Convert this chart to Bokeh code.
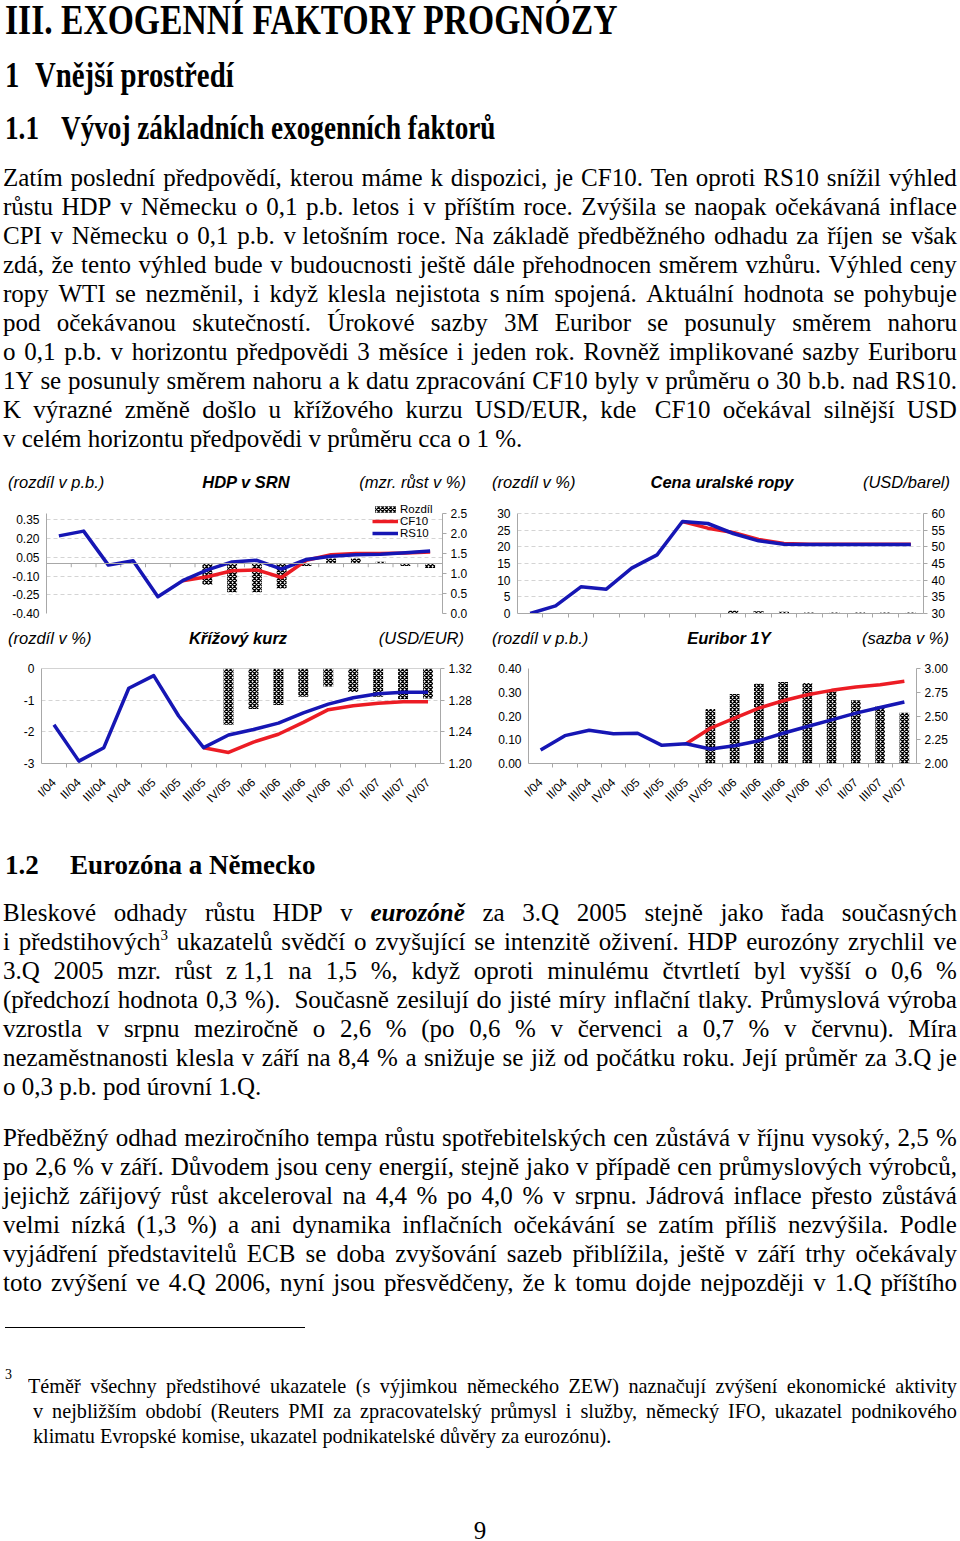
import math
import numpy as np
from bokeh.plotting import figure
from bokeh.layouts import column, row
from bokeh.models import (Range1d, LinearAxis, FixedTicker, NumeralTickFormatter, Span,
                          Legend, LegendItem, Div)
from bokeh.embed import file_html
from bokeh.resources import INLINE

nan = float("nan")

# ---------------- data ----------------
quarters = ["I/04", "II/04", "III/04", "IV/04", "I/05", "II/05", "III/05", "IV/05",
            "I/06", "II/06", "III/06", "IV/06", "I/07", "II/07", "III/07", "IV/07"]

# HDP v SRN (mzr. růst v %), rozdíl v p.b.
hdp_rs10 = [1.94, 2.06, 1.21, 1.32, 0.42, 0.82, 1.09, 1.29, 1.33, 1.11, 1.35, 1.43, 1.47, 1.48, 1.52, 1.56]
hdp_cf10 = [nan, nan, nan, nan, nan, 0.82, 0.92, 1.07, 1.09, 0.90, 1.33, 1.47, 1.50, 1.50, 1.51, 1.54]
hdp_diff = [nan, nan, nan, nan, nan, nan, -0.17, -0.23, -0.23, -0.20, -0.02, 0.04, 0.04, 0.015, -0.02, -0.035]

# Cena uralské ropy (USD/barel), rozdíl v %
oil_rs10 = [30.0, 32.3, 38.0, 37.3, 43.6, 47.6, 57.6, 57.0, 54.0, 51.8, 50.8, 50.7, 50.7, 50.7, 50.7, 50.7]
oil_cf10 = [nan, nan, nan, nan, nan, nan, 57.6, 55.6, 54.3, 52.2, 51.0, 50.8, 50.8, 50.8, 50.8, 50.8]
oil_diff = [nan, nan, nan, nan, nan, nan, nan, nan, 0.8, 0.7, 0.5, 0.3, 0.3, 0.3, 0.3, 0.3]

# Křížový kurz (USD/EUR), rozdíl v %
fx_rs10 = [1.249, 1.203, 1.220, 1.295, 1.311, 1.260, 1.220, 1.236, 1.243, 1.251, 1.264, 1.275, 1.283, 1.288, 1.290, 1.290]
fx_cf10 = [nan, nan, nan, nan, nan, nan, 1.220, 1.214, 1.227, 1.237, 1.252, 1.268, 1.273, 1.276, 1.278, 1.278]
fx_diff = [nan, nan, nan, nan, nan, nan, nan, -1.78, -1.28, -1.15, -0.89, -0.57, -0.74, -0.89, -0.97, -0.95]

# Euribor 1Y (sazba v %), rozdíl v p.b.
eur_rs10 = [2.141, 2.293, 2.350, 2.314, 2.318, 2.191, 2.208, 2.152, 2.187, 2.240, 2.318, 2.389, 2.459, 2.530, 2.590, 2.647]
eur_cf10 = [nan, nan, nan, nan, nan, nan, 2.208, 2.371, 2.477, 2.583, 2.661, 2.724, 2.770, 2.806, 2.830, 2.866]
eur_diff = [nan, nan, nan, nan, nan, nan, nan, 0.229, 0.293, 0.336, 0.343, 0.339, 0.304, 0.266, 0.240, 0.214]

hdp_left_ticks = [-0.40, -0.25, -0.10, 0.05, 0.20, 0.35]
hdp_right_ticks = [0.0, 0.5, 1.0, 1.5, 2.0, 2.5]
oil_left_ticks = [0, 5, 10, 15, 20, 25, 30]
oil_right_ticks = [30, 35, 40, 45, 50, 55, 60]
fx_left_ticks = [-3, -2, -1, 0]
fx_right_ticks = [1.20, 1.24, 1.28, 1.32]
eur_left_ticks = [0.0, 0.1, 0.2, 0.3, 0.4]
eur_right_ticks = [2.00, 2.25, 2.50, 2.75, 3.00]

# ---------------- styles ----------------
RED = "#ec1c24"
BLUE = "#1616b4"
AXIS = "#a8a8a8"
GRID = "#d4d4d4"
SANS = "Liberation Sans"
TICK_FS = "12px"

n = len(quarters)
xs = list(range(n))
inner_bounds = [i + 0.5 for i in range(n - 1)]


def base_fig(w, h, bl, br, bt, bb, yr, yr2, lticks, rticks, lfmt, rfmt, grid=True, extend_top=0):
    # extend_top: extra pixels of frame above the nominal axis top (axis lines stay bounded)
    frame_h = h - bt - bb - extend_top
    lo, hi = yr
    lo2, hi2 = yr2
    hi_e = hi + (hi - lo) * extend_top / frame_h
    hi2_e = hi2 + (hi2 - lo2) * extend_top / frame_h
    p = figure(width=w, height=h, x_range=Range1d(-0.5, n - 0.5), y_range=Range1d(lo, hi_e),
               title=None, output_backend="svg", toolbar_location=None,
               min_border_left=bl, min_border_right=br, min_border_top=bt, min_border_bottom=bb)
    p.outline_line_color = None
    p.background_fill_color = "white"
    p.border_fill_color = "white"
    p.xgrid.visible = False
    p.extra_y_ranges = {"lvl": Range1d(lo2, hi2_e)}
    ya = p.yaxis[0]
    ya.bounds = (lo, hi)
    ya.ticker = FixedTicker(ticks=lticks)
    ya.formatter = NumeralTickFormatter(format=lfmt)
    ya.axis_line_color = AXIS
    ya.major_tick_out = 0
    ya.major_tick_in = 0
    ya.minor_tick_line_color = None
    ya.major_label_standoff = 7
    ya.major_label_text_font = SANS
    ya.major_label_text_font_size = TICK_FS
    ya.major_label_text_color = "black"
    if grid:
        p.ygrid.ticker = FixedTicker(ticks=lticks)
        p.ygrid.grid_line_color = GRID
        p.ygrid.grid_line_dash = "4 3"
    else:
        p.ygrid.visible = False
    ra = LinearAxis(y_range_name="lvl", ticker=FixedTicker(ticks=rticks),
                    formatter=NumeralTickFormatter(format=rfmt), bounds=(lo2, hi2))
    ra.axis_line_color = AXIS
    ra.major_tick_line_color = AXIS
    ra.major_tick_out = 4
    ra.major_tick_in = 0
    ra.minor_tick_line_color = None
    ra.major_label_standoff = 4
    ra.major_label_text_font = SANS
    ra.major_label_text_font_size = TICK_FS
    ra.major_label_text_color = "black"
    p.add_layout(ra, "right")
    return p


def style_xaxis(p, labels=True):
    xa = p.xaxis[0]
    xa.axis_line_color = AXIS
    xa.major_tick_out = 0
    xa.major_tick_in = 0
    xa.minor_tick_out = 4
    xa.minor_tick_in = 0
    xa.minor_tick_line_color = AXIS
    if labels:
        xa.ticker = FixedTicker(ticks=xs, minor_ticks=inner_bounds)
        xa.major_label_overrides = {i: q for i, q in enumerate(quarters)}
        xa.major_label_orientation = math.pi / 4
        xa.major_label_standoff = 13
        xa.major_label_text_font = SANS
        xa.major_label_text_font_size = TICK_FS
        xa.major_label_text_color = "black"
    else:
        xa.ticker = FixedTicker(ticks=[], minor_ticks=inner_bounds)


def bars(p, vals):
    return p.vbar(x=xs, top=vals, bottom=0, width=0.4, fill_color="white", line_color=None,
                  hatch_pattern="x", hatch_color="black", hatch_scale=4.0, hatch_weight=1.3)


def lines(p, cf, rs):
    r1 = p.line(xs, cf, y_range_name="lvl", line_color=RED, line_width=3.5, line_join="round")
    r2 = p.line(xs, rs, y_range_name="lvl", line_color=BLUE, line_width=3.5, line_join="round")
    return r1, r2


# --- row 1: frames extended 13px upward (axes bounded) so the legend fits in the frame ---
# --- HDP v SRN ---
p1 = base_fig(480, 125, 46, 38, 0, 12, (-0.40, 0.40), (0.0, 2.5), hdp_left_ticks, hdp_right_ticks,
              "0.00", "0.0", extend_top=13)
p1.xaxis.visible = False
p1.add_layout(Span(location=0, dimension="width", line_color=AXIS, line_width=1))
p1.segment(x0=inner_bounds, x1=inner_bounds, y0=[0] * len(inner_bounds), y1=[-0.03] * len(inner_bounds),
           line_color=AXIS, line_width=1)
b1 = bars(p1, hdp_diff)
c1, r1 = lines(p1, hdp_cf10, hdp_rs10)
leg = Legend(items=[LegendItem(label="Rozdíl", renderers=[b1]),
                    LegendItem(label="CF10", renderers=[c1]),
                    LegendItem(label="RS10", renderers=[r1])],
             location=(326, 74), padding=0, margin=0, spacing=0, label_standoff=2,
             glyph_width=26, glyph_height=8, label_height=12,
             label_text_font=SANS, label_text_font_size="11.5px", label_text_color="black",
             background_fill_alpha=0, border_line_color=None)
p1.add_layout(leg)

# --- Cena uralské ropy ---
p2 = base_fig(480, 125, 37, 37, 0, 12, (0, 30), (30, 60), oil_left_ticks, oil_right_ticks, "0", "0",
              extend_top=13)
style_xaxis(p2, labels=False)
bars(p2, oil_diff)
lines(p2, oil_cf10, oil_rs10)

# --- Křížový kurz ---
p3 = base_fig(480, 160, 41, 40, 13, 52, (-3, 0), (1.20, 1.32), fx_left_ticks, fx_right_ticks, "0", "0.00")
style_xaxis(p3, labels=True)
p3.add_layout(Span(location=0, dimension="width", line_color=AXIS, line_width=1))
bars(p3, fx_diff)
lines(p3, fx_cf10, fx_rs10)

# --- Euribor 1Y ---
p4 = base_fig(480, 160, 48, 44, 13, 52, (0, 0.40), (2.00, 3.00), eur_left_ticks, eur_right_ticks,
              "0.00", "0.00", grid=False)
style_xaxis(p4, labels=True)
bars(p4, eur_diff)
lines(p4, eur_cf10, eur_rs10)

# ---------------- text ----------------
SERIF = "'Liberation Serif','Times New Roman',serif"
SANSF = "'Liberation Sans',Arial,sans-serif"


def txt(left, cy, fs, inner, family=SERIF, weight="normal", fstyle="normal", scale=None, anchor="left"):
    top = cy - fs / 2
    tf = []
    if anchor == "center":
        tf.append("translateX(-50%)")
    elif anchor == "right":
        tf.append("translateX(-100%)")
    if scale:
        tf.append(f"scaleX({scale})")
    tr = ("transform:" + " ".join(tf) + ";transform-origin:0 50%;") if tf else ""
    return (f'<div style="position:absolute;left:{left}px;top:{top}px;font-family:{family};'
            f'font-size:{fs}px;line-height:{fs}px;font-weight:{weight};font-style:{fstyle};'
            f'white-space:pre;color:#000;{tr}">{inner}</div>')


def jline(left, cy, width, fs, text, justify=True, scale=None):
    top = cy - fs / 2
    if not justify:
        return txt(left, cy, fs, text, scale=scale)
    words = [w for w in text.split(" ") if w]
    spans = "".join(f'<span style="white-space:pre">{w}</span>' for w in words)
    tr = ""
    w = width
    if scale:
        w = width / scale
        tr = f"transform:scaleX({scale});transform-origin:0 50%;"
    return (f'<div style="position:absolute;left:{left}px;top:{top}px;width:{w:.1f}px;'
            f'display:flex;justify-content:space-between;font-family:{SERIF};font-size:{fs}px;'
            f'line-height:{fs}px;color:#000;{tr}">{spans}</div>')


p1_lines = [
    "Zatím poslední předpovědí, kterou máme k dispozici, je CF10. Ten oproti RS10 snížil výhled",
    "růstu HDP v Německu o 0,1 p.b. letos i v příštím roce. Zvýšila se naopak očekávaná inflace",
    "CPI v Německu o 0,1 p.b. v\u00a0letošním roce. Na základě předběžného odhadu za říjen se však",
    "zdá, že tento výhled bude v budoucnosti ještě dále přehodnocen směrem vzhůru. Výhled ceny",
    "ropy WTI se nezměnil, i když klesla nejistota s\u00a0ním spojená. Aktuální hodnota se pohybuje",
    "pod očekávanou skutečností. Úrokové sazby 3M Euribor se posunuly směrem nahoru",
    "o 0,1 p.b. v horizontu předpovědi 3 měsíce i jeden rok. Rovněž implikované sazby Euriboru",
    "1Y se posunuly směrem nahoru a k datu zpracování CF10 byly v průměru o 30 b.b. nad RS10.",
    "K výrazné změně došlo u křížového kurzu USD/EUR, kde \u00a0CF10 očekával silnější USD",
    "v celém horizontu předpovědi v průměru cca o 1 %.",
]
p2_lines = [
    "Bleskové odhady růstu HDP v <b><i>eurozóně</i></b> za 3.Q 2005 stejně jako řada současných",
    "i předstihových<sup>3</sup> ukazatelů svědčí o zvyšující se intenzitě oživení. HDP eurozóny zrychlil ve",
    "3.Q 2005 mzr. růst z\u00a01,1 na 1,5 %, když oproti minulému čtvrtletí byl vyšší o 0,6 %",
    "(předchozí hodnota 0,3 %).\u00a0 Současně zesilují do jisté míry inflační tlaky. Průmyslová výroba",
    "vzrostla v srpnu meziročně o 2,6 % (po 0,6 % v červenci a 0,7 % v červnu). Míra",
    "nezaměstnanosti klesla v září na 8,4 % a snižuje se již od počátku roku. Její průměr za 3.Q je",
    "o 0,3 p.b. pod úrovní 1.Q.",
]
p3_lines = [
    "Předběžný odhad meziročního tempa růstu spotřebitelských cen zůstává v říjnu vysoký, 2,5 %",
    "po 2,6 % v září. Důvodem jsou ceny energií, stejně jako v případě cen průmyslových výrobců,",
    "jejichž zářijový růst akceleroval na 4,4 % po 4,0 % v srpnu. Jádrová inflace přesto zůstává",
    "velmi nízká (1,3 %) a ani dynamika inflačních očekávání se zatím příliš nezvýšila. Podle",
    "vyjádření představitelů ECB se doba zvyšování sazeb přiblížila, ještě v září trhy očekávaly",
    "toto zvýšení ve 4.Q 2006, nyní jsou přesvědčeny, že k tomu dojde nejpozději v 1.Q příštího",
]
foot_lines = [
    "Téměř všechny předstihové ukazatele (s výjimkou německého ZEW) naznačují zvýšení ekonomické aktivity",
    "v nejbližším období (Reuters PMI za zpracovatelský průmysl i služby, německý IFO, ukazatel podnikového",
    "klimatu Evropské komise, ukazatel podnikatelské důvěry za eurozónu).",
]

STYLE = "<style>sup{font-size:15px;line-height:0;vertical-align:10px;}</style>"
HFS = 16.5

# --- top block (page y 0..500) ---
a = [STYLE]
a.append(txt(5, 20, 42, "III. EXOGENNÍ FAKTORY PROGNÓZY", weight="bold", scale=0.8))
a.append(txt(5, 75, 36, "1", weight="bold", scale=0.8))
a.append(txt(35, 75, 36, "Vnější prostředí", weight="bold", scale=0.8))
a.append(txt(5, 128, 34, "1.1", weight="bold", scale=0.8))
a.append(txt(61, 128, 34, "Vývoj základních exogenních faktorů", weight="bold", scale=0.8))
for k, t in enumerate(p1_lines):
    a.append(jline(3, 177 + 29 * k, 954, 25, t, justify=(k < len(p1_lines) - 1)))
a.append(txt(8, 482, HFS, "(rozdíl v p.b.)", family=SANSF, fstyle="italic"))
a.append(txt(246, 482, HFS, "HDP v SRN", family=SANSF, fstyle="italic", weight="bold", anchor="center"))
a.append(txt(466, 482, HFS, "(mzr. růst v %)", family=SANSF, fstyle="italic", anchor="right"))
a.append(txt(492, 482, HFS, "(rozdíl v %)", family=SANSF, fstyle="italic"))
a.append(txt(722, 482, HFS, "Cena uralské ropy", family=SANSF, fstyle="italic", weight="bold", anchor="center"))
a.append(txt(950, 482, HFS, "(USD/barel)", family=SANSF, fstyle="italic", anchor="right"))
divA = Div(text='<div style="position:relative;width:960px;height:500px;">' + "".join(a) + "</div>",
           width=960, height=500, margin=0, styles={"overflow": "visible"})

# --- chart headers row 2 (page y 625..655) ---
b = []
b.append(txt(8, 13, HFS, "(rozdíl v %)", family=SANSF, fstyle="italic"))
b.append(txt(238, 13, HFS, "Křížový kurz", family=SANSF, fstyle="italic", weight="bold", anchor="center"))
b.append(txt(464, 13, HFS, "(USD/EUR)", family=SANSF, fstyle="italic", anchor="right"))
b.append(txt(492, 13, HFS, "(rozdíl v p.b.)", family=SANSF, fstyle="italic"))
b.append(txt(729, 13, HFS, "Euribor 1Y", family=SANSF, fstyle="italic", weight="bold", anchor="center"))
b.append(txt(949, 13, HFS, "(sazba v %)", family=SANSF, fstyle="italic", anchor="right"))
divB = Div(text='<div style="position:relative;width:960px;height:30px;">' + "".join(b) + "</div>",
           width=960, height=30, margin=0, styles={"overflow": "visible"})

# --- bottom block (page y 815..1541) ---
c = [STYLE]
c.append(txt(5, 50, 27, "1.2", weight="bold"))
c.append(txt(70, 50, 27, "Eurozóna a Německo", weight="bold"))
for k, t in enumerate(p2_lines):
    c.append(jline(3, 97 + 29 * k, 954, 25, t, justify=(k < len(p2_lines) - 1)))
for k, t in enumerate(p3_lines):
    c.append(jline(3, 322 + 29 * k, 954, 25, t, justify=True))
c.append('<div style="position:absolute;left:5px;top:512px;width:300px;height:1px;background:#000;"></div>')
c.append(txt(5, 560, 14, "3"))
c.append(jline(28, 571, 929, 22, foot_lines[0], justify=True, scale=0.92))
c.append(jline(33, 596, 924, 22, foot_lines[1], justify=True, scale=0.92))
c.append(txt(33, 621, 22, foot_lines[2], scale=0.92))
c.append(txt(480, 715, 25, "9", anchor="center"))
divC = Div(text='<div style="position:relative;width:960px;height:726px;">' + "".join(c) + "</div>",
           width=960, height=726, margin=0, styles={"overflow": "visible"})

layout = column(divA, row(p1, p2), divB, row(p3, p4), divC)

open("out.html", "w").write(file_html(layout, INLINE))
